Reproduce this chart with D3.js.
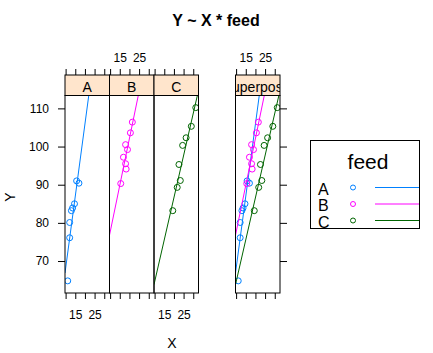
<!DOCTYPE html>
<html>
<head>
<meta charset="utf-8">
<script src="https://cdn.jsdelivr.net/npm/d3@7"></script>
<style>
  body { margin: 0; background: #fff; }
  svg { font-family: "Liberation Sans", Arial, sans-serif; }
</style>
</head>
<body>
<svg id="chart" width="433" height="353"></svg>
<script>
// values
const groups = ['A', 'B', 'C'];
const colors = ['#0080ff', '#ff00ff', '#006400'];
const xA = [11.1, 12.1, 12.1, 13.0, 13.6, 14.6, 15.7, 16.9];
const yA = [64.8, 76.1, 80.1, 83.2, 83.9, 85.0, 91.0, 90.4];
const xB = [15.5, 16.9, 18.0, 18.3, 18.0, 19.0, 20.5, 21.5];
const yB = [90.3, 97.2, 95.5, 94.1, 100.5, 99.2, 103.6, 106.4];
const xC = [19.4, 21.7, 23.3, 22.6, 24.5, 26.3, 29.0, 31.3];
const yC = [83.2, 89.3, 91.1, 95.3, 100.3, 102.3, 105.3, 110.2];
const xTicks = [10, 15, 20, 25, 30];
const xTickLabels = [15, 25];
const yTicks = [70, 80, 90, 100, 110];

const series = [
  { key: 'A', x: xA, y: yA, color: colors[0] },
  { key: 'B', x: xB, y: yB, color: colors[1] },
  { key: 'C', x: xC, y: yC, color: colors[2] }
];

// least squares fit, like panel.lmline
function fit(xs, ys) {
  const mx = d3.mean(xs), my = d3.mean(ys);
  let sxy = 0, sxx = 0;
  xs.forEach((x, i) => { sxy += (x - mx) * (ys[i] - my); sxx += (x - mx) ** 2; });
  const b = sxy / sxx;
  return { a: my - b * mx, b };
}
series.forEach(s => { s.fit = fit(s.x, s.y); });

// lattice style 7% padding of the ranges
function padded(vals) {
  const [lo, hi] = d3.extent(vals);
  const p = (hi - lo) * 0.07;
  return [lo - p, hi + p];
}
const xDom = padded([...xA, ...xB, ...xC]);
const yDom = padded([...yA, ...yB, ...yC]);

const stripTop = 75, panelTop = 95.5, panelBottom = 293;
const panels = [
  { name: 'A', x0: 65, x1: 109.5, series: [series[0]], top: false, bottom: true, left: true },
  { name: 'B', x0: 109.5, x1: 154, series: [series[1]], top: true, bottom: false },
  { name: 'C', x0: 154, x1: 198.5, series: [series[2]], top: false, bottom: true },
  { name: 'superpose', x0: 235.5, x1: 280, series: series, top: true, bottom: false, right: true }
];

const svg = d3.select('#chart');
const y = d3.scaleLinear().domain(yDom).range([panelBottom, panelTop]);

panels.forEach((p, i) => {
  const x = d3.scaleLinear().domain(xDom).range([p.x0, p.x1]);
  const g = svg.append('g');

  const clipId = 'clip' + i;
  svg.append('clipPath').attr('id', clipId)
    .append('rect').attr('x', p.x0).attr('y', panelTop)
    .attr('width', p.x1 - p.x0).attr('height', panelBottom - panelTop);
  const sclip = 'sclip' + i;
  svg.append('clipPath').attr('id', sclip)
    .append('rect').attr('x', p.x0).attr('y', stripTop)
    .attr('width', p.x1 - p.x0).attr('height', panelTop - stripTop);

  // strip
  g.append('rect')
    .attr('x', p.x0).attr('y', stripTop)
    .attr('width', p.x1 - p.x0).attr('height', panelTop - stripTop)
    .attr('fill', '#ffe5cc').attr('stroke', '#000');
  g.append('text')
    .attr('clip-path', `url(#${sclip})`)
    .attr('x', (p.x0 + p.x1) / 2).attr('y', panelTop - 4)
    .attr('text-anchor', 'middle').attr('font-size', 14)
    .text(p.name);

  // data
  const inner = g.append('g').attr('clip-path', `url(#${clipId})`);
  p.series.forEach(s => {
    inner.append('line')
      .attr('x1', x(xDom[0])).attr('x2', x(xDom[1]))
      .attr('y1', y(s.fit.a + s.fit.b * xDom[0]))
      .attr('y2', y(s.fit.a + s.fit.b * xDom[1]))
      .attr('stroke', s.color).attr('stroke-width', 1);
    inner.selectAll(null).data(s.x).enter().append('circle')
      .attr('cx', d => x(d))
      .attr('cy', (d, j) => y(s.y[j]))
      .attr('r', 3)
      .attr('fill', 'none').attr('stroke', s.color).attr('stroke-width', 1);
  });

  g.append('rect')
    .attr('x', p.x0).attr('y', panelTop)
    .attr('width', p.x1 - p.x0).attr('height', panelBottom - panelTop)
    .attr('fill', 'none').attr('stroke', '#000');

  const fmt = d => xTickLabels.includes(d) ? d : '';

  const bottom = g.append('g').attr('transform', `translate(0,${panelBottom})`)
    .call(d3.axisBottom(x).tickValues(xTicks).tickSize(6).tickSizeOuter(0)
      .tickFormat(p.bottom ? fmt : () => ''));
  const top = g.append('g').attr('transform', `translate(0,${stripTop})`)
    .call(d3.axisTop(x).tickValues(xTicks).tickSize(6).tickSizeOuter(0)
      .tickFormat(p.top ? fmt : () => ''));
  [bottom, top].forEach(ax => {
    ax.select('.domain').remove();
    ax.selectAll('text').attr('font-size', 12).attr('fill', '#000')
      .attr('font-family', '"Liberation Sans", Arial, sans-serif');
  });
  bottom.selectAll('text').attr('y', 17);
  top.selectAll('text').attr('y', -13);

  if (p.left) {
    const ax = g.append('g').attr('transform', `translate(${p.x0},0)`)
      .call(d3.axisLeft(y).tickValues(yTicks).tickSize(7).tickSizeOuter(0));
    ax.select('.domain').remove();
    ax.selectAll('text').attr('font-size', 12).attr('fill', '#000')
      .attr('font-family', '"Liberation Sans", Arial, sans-serif').attr('x', -16);
  }
  if (p.right) {
    const ax = g.append('g').attr('transform', `translate(${p.x1},0)`)
      .call(d3.axisRight(y).tickValues(yTicks).tickSize(7).tickSizeOuter(0).tickFormat(() => ''));
    ax.select('.domain').remove();
  }
});

// title and axis labels
svg.append('text').attr('x', 216).attr('y', 26).attr('text-anchor', 'middle')
  .attr('font-size', 16).attr('font-weight', 'bold').text('Y ~ X * feed');
svg.append('text').attr('transform', 'translate(15,197) rotate(-90)')
  .attr('text-anchor', 'middle').attr('font-size', 14).text('Y');
svg.append('text').attr('x', 172).attr('y', 348).attr('text-anchor', 'middle')
  .attr('font-size', 14).text('X');

// legend
const leg = svg.append('g');
leg.append('rect').attr('x', 310.5).attr('y', 140.5).attr('width', 109).attr('height', 88)
  .attr('fill', '#fff').attr('stroke', '#000');
leg.append('text').attr('x', 368).attr('y', 169).attr('text-anchor', 'middle')
  .attr('font-size', 21).text('feed');
const legY = d3.scalePoint().domain(groups).range([187.5, 220.5]);
groups.forEach((k, i) => {
  const yy = legY(k);
  leg.append('text').attr('x', 318).attr('y', yy + 7).attr('font-size', 16).text(k);
  leg.append('circle').attr('cx', 353).attr('cy', yy).attr('r', 2.5)
    .attr('fill', 'none').attr('stroke', colors[i]);
  leg.append('line').attr('x1', 375).attr('x2', 419).attr('y1', yy).attr('y2', yy)
    .attr('stroke', colors[i]);
});
</script>
</body>
</html>
